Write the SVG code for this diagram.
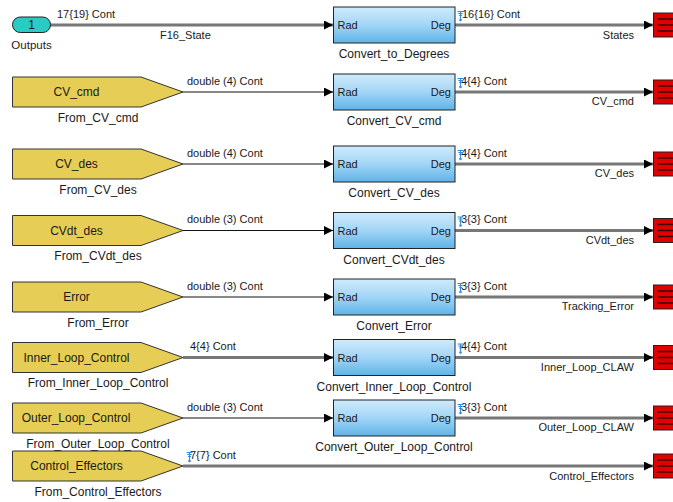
<svg xmlns="http://www.w3.org/2000/svg" width="673" height="502" viewBox="0 0 673 502">
<defs>
<linearGradient id="blk" x1="0" y1="0" x2="0" y2="1">
<stop offset="0" stop-color="#CFEBFC"/>
<stop offset="0.5" stop-color="#A2D5F6"/>
<stop offset="1" stop-color="#5FB3E8"/>
</linearGradient>
<marker id="arr" markerUnits="userSpaceOnUse" markerWidth="9" markerHeight="9" refX="9" refY="4.5" orient="auto">
<path d="M0,0 L9,4.5 L0,9 Z" fill="#000"/>
</marker>
<g id="logmark">
<path d="M-0.5,0.5 h6 M0.3,2.5 h4.4 M1.1,4.5 h2.8 M2.5,1 v7" stroke="#2F8BE6" stroke-width="1.1" fill="none"/>
<circle cx="2.5" cy="9" r="1.3" fill="#2F8BE6"/>
</g>
</defs>
<style>
text{font-family:"Liberation Sans",Arial,sans-serif;fill:#1a1a1a}
.sig{font-size:11px}
.lbl{font-size:12px;text-anchor:middle}
.port{font-size:11px}
.thick{stroke:#777;stroke-width:3;fill:none}
.thin{stroke:#111;stroke-width:1;fill:none}
.from{fill:#E6CD55;stroke:#333;stroke-width:1}
.blk{fill:url(#blk);stroke:#222;stroke-width:1}
.sink{fill:#E00000;stroke:#222;stroke-width:1}
.sinkl{stroke:#3a0000;stroke-width:1.4}
</style>

<g id="connectors">
<path class="thick" d="M50,25 H333" marker-end="url(#arr)"/>
<path class="thick" d="M455,25 H653" marker-end="url(#arr)"/>
<path class="thin" d="M183,92 H333" marker-end="url(#arr)"/>
<path class="thick" d="M455,92 H653" marker-end="url(#arr)"/>
<path class="thin" d="M183,164 H333" marker-end="url(#arr)"/>
<path class="thick" d="M455,164 H653" marker-end="url(#arr)"/>
<path class="thin" d="M183,230.5 H333" marker-end="url(#arr)"/>
<path class="thick" d="M455,230.5 H653" marker-end="url(#arr)"/>
<path class="thin" d="M183,297 H333" marker-end="url(#arr)"/>
<path class="thick" d="M455,297 H653" marker-end="url(#arr)"/>
<path class="thick" d="M183,357.5 H333" marker-end="url(#arr)"/>
<path class="thick" d="M455,357.5 H653" marker-end="url(#arr)"/>
<path class="thin" d="M183,418 H333" marker-end="url(#arr)"/>
<path class="thick" d="M455,418 H653" marker-end="url(#arr)"/>
<path class="thick" d="M183,466 H653" marker-end="url(#arr)"/>

<text class="sig" x="57" y="18">17{19} Cont</text>
<text class="sig" x="160" y="39">F16_State</text>
<text class="sig" x="462" y="18">16{16} Cont</text>
<use href="#logmark" x="458" y="11"/>
<text class="sig" x="634" y="39" text-anchor="end">States</text>

<text class="sig" x="187" y="84.5">double (4) Cont</text>
<text class="sig" x="461" y="84.5">4{4} Cont</text>
<use href="#logmark" x="458" y="78"/>
<text class="sig" x="634" y="105" text-anchor="end">CV_cmd</text>

<text class="sig" x="187" y="156.5">double (4) Cont</text>
<text class="sig" x="461" y="156.5">4{4} Cont</text>
<use href="#logmark" x="458" y="150"/>
<text class="sig" x="634" y="177" text-anchor="end">CV_des</text>

<text class="sig" x="187" y="223">double (3) Cont</text>
<text class="sig" x="461" y="223">3{3} Cont</text>
<use href="#logmark" x="458" y="216.5"/>
<text class="sig" x="634" y="243.5" text-anchor="end">CVdt_des</text>

<text class="sig" x="187" y="289.5">double (3) Cont</text>
<text class="sig" x="461" y="289.5">3{3} Cont</text>
<use href="#logmark" x="458" y="283"/>
<text class="sig" x="634" y="310" text-anchor="end">Tracking_Error</text>

<text class="sig" x="190" y="350">4{4} Cont</text>
<text class="sig" x="461" y="350">4{4} Cont</text>
<use href="#logmark" x="458" y="343.5"/>
<text class="sig" x="634" y="371" text-anchor="end">Inner_Loop_CLAW</text>

<text class="sig" x="187" y="410.5">double (3) Cont</text>
<text class="sig" x="461" y="410.5">3{3} Cont</text>
<use href="#logmark" x="458" y="404"/>
<text class="sig" x="634" y="431" text-anchor="end">Outer_Loop_CLAW</text>

<text class="sig" x="190" y="459">7{7} Cont</text>
<use href="#logmark" x="187" y="452"/>
<text class="sig" x="634" y="480" text-anchor="end">Control_Effectors</text>
</g>

<g id="Outputs">
<rect x="12.5" y="17" width="38" height="15.5" rx="7.7" fill="#2ACBC4" stroke="#222"/>
<text x="31.5" y="29" font-size="12" text-anchor="middle">1</text>
<text x="31.5" y="49" font-size="11.5" text-anchor="middle">Outputs</text>
</g>

<g id="From_CV_cmd">
<path class="from" d="M12.5,77 H141 L183,92 L141,107 H12.5 Z"/>
<text class="lbl" x="76.5" y="96">CV_cmd</text>
<text class="lbl" x="98" y="122">From_CV_cmd</text>
</g>
<g id="From_CV_des">
<path class="from" d="M12.5,149 H141 L183,164 L141,179 H12.5 Z"/>
<text class="lbl" x="76.5" y="168">CV_des</text>
<text class="lbl" x="98" y="193.5">From_CV_des</text>
</g>
<g id="From_CVdt_des">
<path class="from" d="M12.5,215.5 H141 L183,230.5 L141,245.5 H12.5 Z"/>
<text class="lbl" x="76.5" y="234.5">CVdt_des</text>
<text class="lbl" x="98" y="260">From_CVdt_des</text>
</g>
<g id="From_Error">
<path class="from" d="M12.5,282 H141 L183,297 L141,312 H12.5 Z"/>
<text class="lbl" x="76.5" y="301">Error</text>
<text class="lbl" x="98" y="326.5">From_Error</text>
</g>
<g id="From_Inner_Loop_Control">
<path class="from" d="M12.5,342.5 H141 L183,357.5 L141,372.5 H12.5 Z"/>
<text class="lbl" x="76.5" y="361.5">Inner_Loop_Control</text>
<text class="lbl" x="98" y="387">From_Inner_Loop_Control</text>
</g>
<g id="From_Outer_Loop_Control">
<path class="from" d="M12.5,403 H141 L183,418 L141,433 H12.5 Z"/>
<text class="lbl" x="76" y="422">Outer_Loop_Control</text>
<text class="lbl" x="98" y="447.5">From_Outer_Loop_Control</text>
</g>
<g id="From_Control_Effectors">
<path class="from" d="M12.5,451 H141 L183,466 L141,481 H12.5 Z"/>
<text class="lbl" x="76.5" y="470">Control_Effectors</text>
<text class="lbl" x="98" y="496">From_Control_Effectors</text>
</g>

<g id="Convert_to_Degrees">
<rect class="blk" x="333.5" y="7" width="121.5" height="36"/>
<text class="port" x="337.5" y="29">Rad</text>
<text class="port" x="451" y="29" text-anchor="end">Deg</text>
<text class="lbl" x="394" y="58">Convert_to_Degrees</text>
</g>
<g id="Convert_CV_cmd">
<rect class="blk" x="333.5" y="74" width="121.5" height="36"/>
<text class="port" x="337.5" y="96">Rad</text>
<text class="port" x="451" y="96" text-anchor="end">Deg</text>
<text class="lbl" x="394" y="125">Convert_CV_cmd</text>
</g>
<g id="Convert_CV_des">
<rect class="blk" x="333.5" y="146" width="121.5" height="36"/>
<text class="port" x="337.5" y="168">Rad</text>
<text class="port" x="451" y="168" text-anchor="end">Deg</text>
<text class="lbl" x="394" y="197">Convert_CV_des</text>
</g>
<g id="Convert_CVdt_des">
<rect class="blk" x="333.5" y="212.5" width="121.5" height="36"/>
<text class="port" x="337.5" y="234.5">Rad</text>
<text class="port" x="451" y="234.5" text-anchor="end">Deg</text>
<text class="lbl" x="394" y="263.5">Convert_CVdt_des</text>
</g>
<g id="Convert_Error">
<rect class="blk" x="333.5" y="279" width="121.5" height="36"/>
<text class="port" x="337.5" y="301">Rad</text>
<text class="port" x="451" y="301" text-anchor="end">Deg</text>
<text class="lbl" x="394" y="330">Convert_Error</text>
</g>
<g id="Convert_Inner_Loop_Control">
<rect class="blk" x="333.5" y="339.5" width="121.5" height="36"/>
<text class="port" x="337.5" y="361.5">Rad</text>
<text class="port" x="451" y="361.5" text-anchor="end">Deg</text>
<text class="lbl" x="394" y="390.5">Convert_Inner_Loop_Control</text>
</g>
<g id="Convert_Outer_Loop_Control">
<rect class="blk" x="333.5" y="400" width="121.5" height="36"/>
<text class="port" x="337.5" y="422">Rad</text>
<text class="port" x="451" y="422" text-anchor="end">Deg</text>
<text class="lbl" x="394" y="451">Convert_Outer_Loop_Control</text>
</g>

<g id="sink_States">
<rect class="sink" x="653.5" y="13" width="25" height="24"/>
<path class="sinkl" d="M657,19 H673 M657,25 H673 M657,31 H673"/>
</g>
<g id="sink_CV_cmd">
<rect class="sink" x="653.5" y="80" width="25" height="24"/>
<path class="sinkl" d="M657,86 H673 M657,92 H673 M657,98 H673"/>
</g>
<g id="sink_CV_des">
<rect class="sink" x="653.5" y="152" width="25" height="24"/>
<path class="sinkl" d="M657,158 H673 M657,164 H673 M657,170 H673"/>
</g>
<g id="sink_CVdt_des">
<rect class="sink" x="653.5" y="218.5" width="25" height="24"/>
<path class="sinkl" d="M657,224.5 H673 M657,230.5 H673 M657,236.5 H673"/>
</g>
<g id="sink_Tracking_Error">
<rect class="sink" x="653.5" y="285" width="25" height="24"/>
<path class="sinkl" d="M657,291 H673 M657,297 H673 M657,303 H673"/>
</g>
<g id="sink_Inner_Loop_CLAW">
<rect class="sink" x="653.5" y="345.5" width="25" height="24"/>
<path class="sinkl" d="M657,351.5 H673 M657,357.5 H673 M657,363.5 H673"/>
</g>
<g id="sink_Outer_Loop_CLAW">
<rect class="sink" x="653.5" y="406" width="25" height="24"/>
<path class="sinkl" d="M657,412 H673 M657,418 H673 M657,424 H673"/>
</g>
<g id="sink_Control_Effectors">
<rect class="sink" x="653.5" y="454" width="25" height="24"/>
<path class="sinkl" d="M657,460 H673 M657,466 H673 M657,472 H673"/>
</g>
</svg>
